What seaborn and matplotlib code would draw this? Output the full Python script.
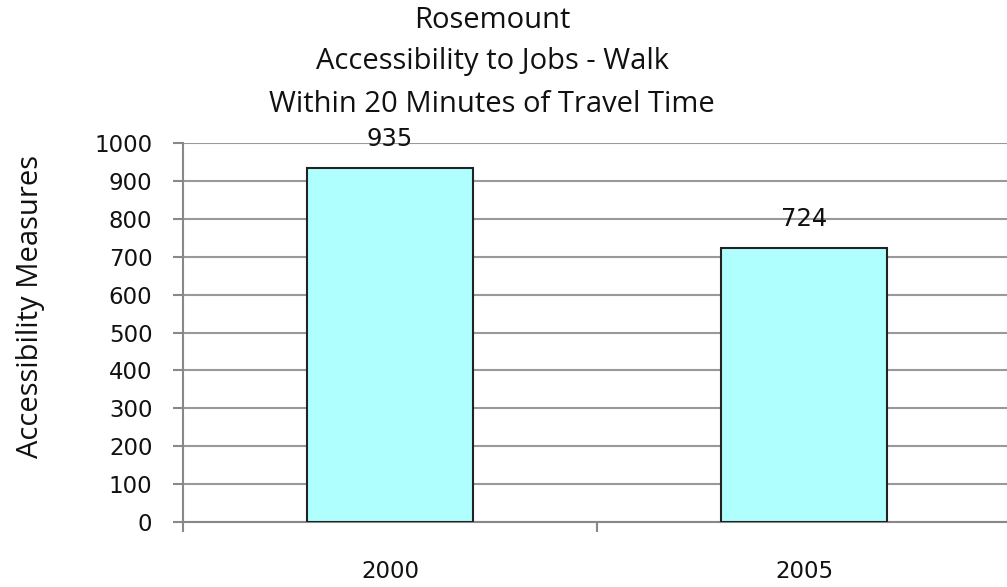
import matplotlib
matplotlib.use("Agg")
import matplotlib.pyplot as plt
import seaborn as sns
import pandas as pd
from matplotlib.ticker import FixedLocator

years = ["2000", "2005"]
values = [935, 724]
title_lines = ["Rosemount", "Accessibility to Jobs - Walk", "Within 20 Minutes of Travel Time"]
y_label = "Accessibility Measures"

df = pd.DataFrame({"year": years, "value": values})

sns.set_theme(style="white")
plt.rcParams["font.family"] = ["DejaVu Sans"]

W, H = 1007, 587
fig = plt.figure(figsize=(W / 100, H / 100), dpi=100)
ax = fig.add_axes([183 / W, 65 / H, 828 / W, 379 / H])

sns.barplot(data=df, x="year", y="value", color="#AFFFFF", edgecolor="#222222",
            linewidth=1.5, width=0.4, saturation=1, ax=ax, zorder=3)

ax.set_xlim(-0.5, 1.5)
ax.set_ylim(0, 1000)
ax.set_yticks(range(0, 1001, 100))
ax.yaxis.grid(True, color="#999999", linewidth=1.5, zorder=0)
ax.set_axisbelow(True)

for s in ["top", "right"]:
    ax.spines[s].set_visible(False)
for s in ["left", "bottom"]:
    ax.spines[s].set_color("#888888")
    ax.spines[s].set_linewidth(1.5)

ax.tick_params(axis="y", which="major", length=7, width=1.5, color="#888888",
               labelsize=16.5, pad=15, labelcolor="#111111", left=True)
ax.tick_params(axis="x", which="major", length=0, pad=27, labelsize=16.5, labelcolor="#111111")
ax.xaxis.set_minor_locator(FixedLocator([-0.5, 0.5, 1.5]))
ax.tick_params(axis="x", which="minor", length=7, width=1.5, color="#888888", bottom=True)

ax.set_xlabel("")
ax.set_ylabel("")
fig.text(31 / W, 1 - 307 / H, y_label, rotation=90, ha="center", va="center",
         fontsize=21, family="Open Sans", color="#111111")

for c in ax.containers:
    ax.bar_label(c, labels=[str(v) for v in values], padding=12, fontsize=17.5, color="#111111")

# Three-line title, centred over the chart
for line, y in zip(title_lines, [21, 62, 104]):
    fig.text(492 / W, 1 - y / H, line, ha="center", va="center",
             fontsize=21, family="Open Sans", color="#111111")

fig.savefig("out.png", dpi=100)
